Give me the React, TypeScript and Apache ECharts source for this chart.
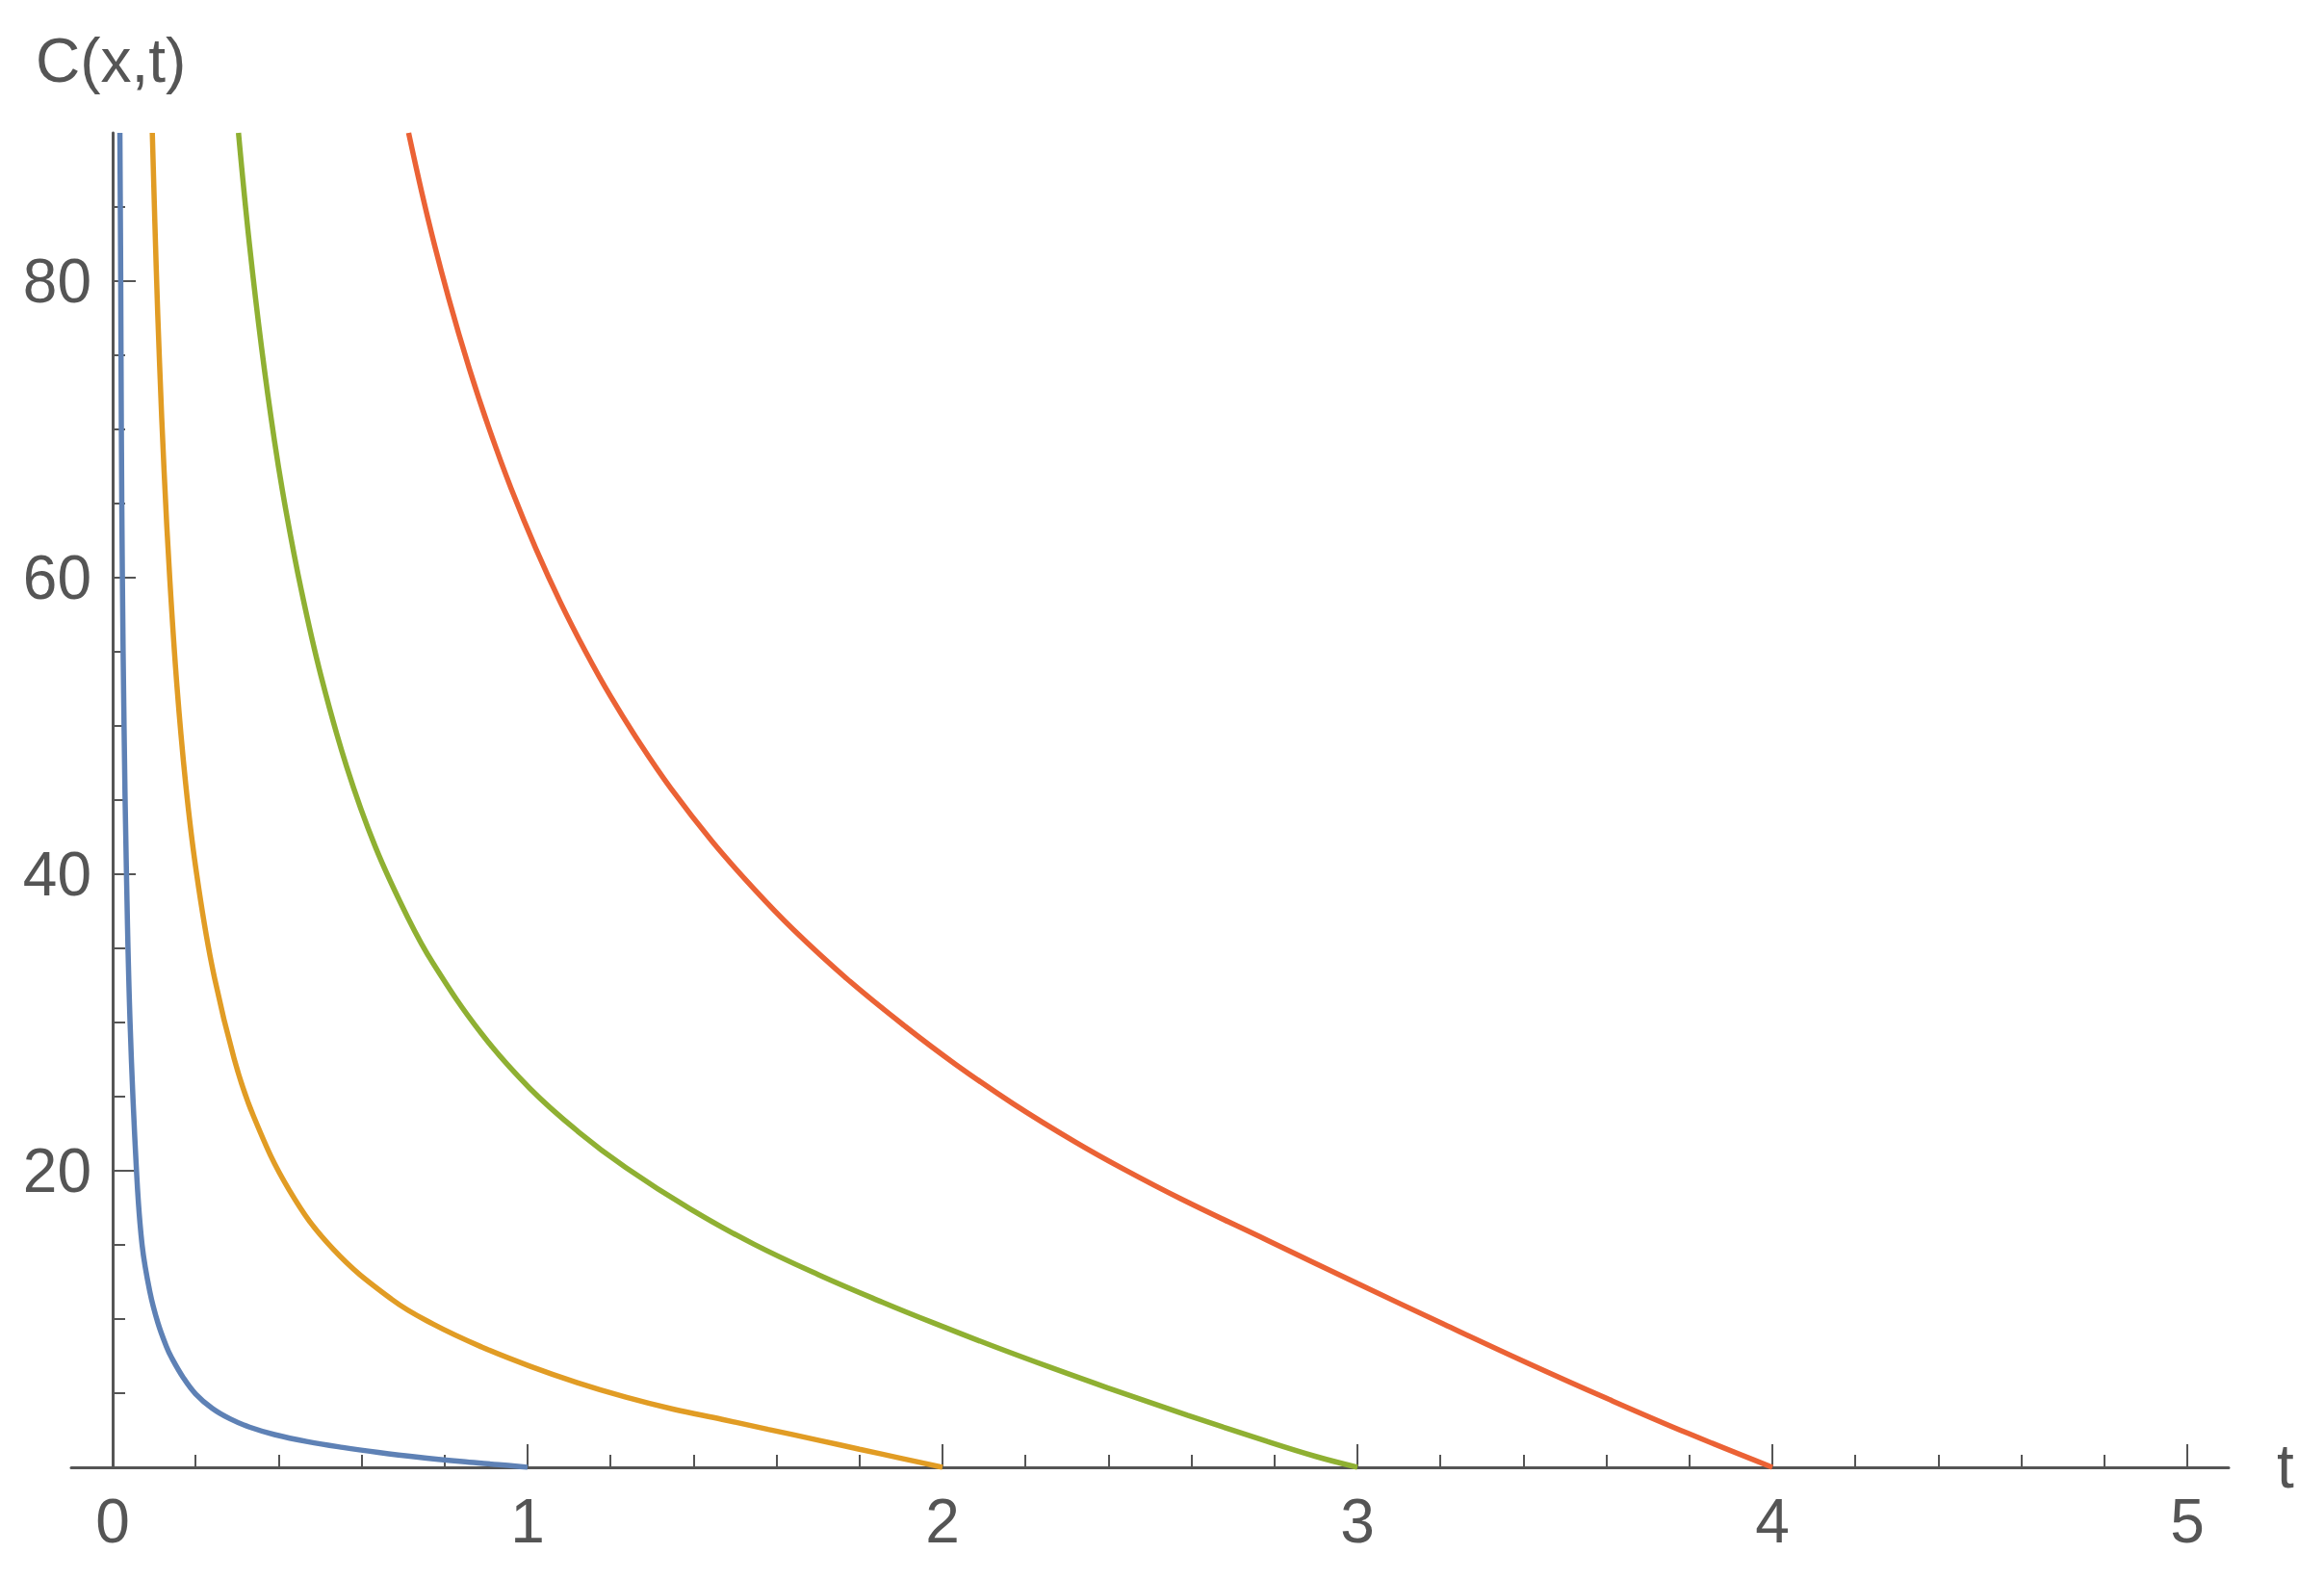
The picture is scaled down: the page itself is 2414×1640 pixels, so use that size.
import React, { useEffect, useRef } from "react";
import * as echarts from "echarts";

// t values (x axis) and C(x,t) values (y axis)
const blueT = [0.0175, 0.0195, 0.021, 0.0235, 0.0275, 0.033, 0.042, 0.0575, 0.071, 0.09, 0.109, 0.13, 0.142, 0.17, 0.2, 0.24, 0.283, 0.33, 0.39, 0.47, 0.555, 0.64, 0.732, 0.85, 0.93, 1.0];
const blueC = [90, 80, 70, 60, 50, 40.5, 30, 20, 15.0, 11.8, 9.75, 8.12, 7.4, 6.06, 4.95, 3.98, 3.27, 2.71, 2.21, 1.73, 1.34, 1.01, 0.7, 0.37, 0.18, 0];

const orangeT = [0.0956, 0.105, 0.113, 0.124, 0.138, 0.155, 0.176, 0.2, 0.239, 0.293, 0.34, 0.425, 0.531, 0.673, 0.773, 0.889, 1.005, 1.12, 1.237, 1.35, 1.469, 1.58, 1.701, 1.8, 1.9, 2.0];
const orangeC = [90, 80.95, 74.5, 67.2, 59.8, 52.7, 46.1, 40.5, 33.9, 27.54, 23.65, 18.73, 14.73, 11.32, 9.65, 8.12, 6.83, 5.71, 4.73, 3.93, 3.23, 2.56, 1.83, 1.22, 0.61, 0];

const greenT = [0.3033, 0.328, 0.359, 0.39, 0.417, 0.455, 0.502, 0.564, 0.633, 0.711, 0.773, 0.889, 1.005, 1.121, 1.237, 1.392, 1.546, 1.701, 1.855, 1.979, 2.126, 2.26, 2.397, 2.59, 2.783, 2.9, 3.0];
const greenC = [90, 82.93, 75.49, 69.23, 64.63, 59.12, 53.39, 47.25, 41.86, 37.1, 33.96, 29.25, 25.57, 22.66, 20.21, 17.42, 15.04, 12.99, 11.14, 9.73, 8.13, 6.74, 5.37, 3.52, 1.74, 0.73, 0];

const redT = [0.7133, 0.76, 0.81, 0.86, 0.91, 0.96, 1.02, 1.08, 1.14, 1.2, 1.27, 1.345, 1.445, 1.546, 1.64, 1.77, 1.91, 2.033, 2.172, 2.32, 2.436, 2.575, 2.783, 3.0, 3.209, 3.41, 3.603, 3.796, 4.0];
const redC = [90, 84.21, 78.83, 74.07, 69.84, 66.04, 61.96, 58.29, 55.0, 52.0, 48.86, 45.8, 42.21, 39.0, 36.28, 32.94, 29.74, 27.15, 24.49, 21.94, 20.12, 18.1, 15.31, 12.4, 9.64, 7.03, 4.62, 2.3, 0];

const xTicks = [0, 1, 2, 3, 4, 5];
const yTicks = [20, 40, 60, 80];
const yMajorTicks = [0, 20, 40, 60, 80];
const yLabel = "C(x,t)";
const xLabel = "t";

const AXIS = "#555555";
const TEXT = "#555555";
const FONT = "'Liberation Sans', Arial, Helvetica, sans-serif";
const COLORS = ["#5E81B5", "#E19C24", "#8FB032", "#EB6235"];

const pairs = (ts: number[], cs: number[]) => ts.map((t, i) => [t, cs[i]]);

export default function App() {
  const ref = useRef<HTMLDivElement>(null);

  useEffect(() => {
    const chart = echarts.init(ref.current!, null, { renderer: "svg" });
    const curves = [pairs(blueT, blueC), pairs(orangeT, orangeC), pairs(greenT, greenC), pairs(redT, redC)];
    chart.setOption({
      animation: false,
      backgroundColor: "#ffffff",
      grid: [
        // only draws the horizontal axis line, which runs a little past both ends
        { left: 74, right: 99, top: 138, bottom: 116, containLabel: false, outerBoundsMode: "none" },
        // the plot itself, t from 0 to 5
        { left: 117, right: 142, top: 138, bottom: 116, containLabel: false, outerBoundsMode: "none" },
      ],
      xAxis: [
        {
          type: "value",
          gridIndex: 0,
          min: -0.1,
          max: 5.1,
          axisLine: { show: true, onZero: false, lineStyle: { color: AXIS, width: 3 } },
          axisTick: { show: false },
          axisLabel: { show: false },
          splitLine: { show: false },
        },
        {
          type: "value",
          gridIndex: 1,
          min: 0,
          max: 5,
          interval: 1,
          axisLine: { show: false, onZero: false },
          axisTick: { show: true, inside: true, length: 24, lineStyle: { color: AXIS, width: 2 } },
          minorTick: { show: true, splitNumber: 5, length: 13, lineStyle: { color: AXIS, width: 2 } },
          axisLabel: {
            show: true,
            margin: 24,
            fontSize: 64,
            fontFamily: FONT,
            color: TEXT,
            formatter: (v: number) => (xTicks.includes(v) ? String(v) : ""),
          },
          splitLine: { show: false },
          minorSplitLine: { show: false },
        },
      ],
      yAxis: [
        { type: "value", gridIndex: 0, min: 0, max: 90, show: false },
        {
          type: "value",
          gridIndex: 1,
          min: 0,
          max: 90,
          interval: 20,
          axisLine: { show: true, onZero: false, lineStyle: { color: AXIS, width: 3 } },
          axisTick: {
            show: true,
            inside: true,
            length: 24,
            customValues: yMajorTicks,
            lineStyle: { color: AXIS, width: 2 },
          },
          minorTick: { show: true, splitNumber: 4, length: 13, lineStyle: { color: AXIS, width: 2 } },
          axisLabel: {
            show: true,
            margin: 22,
            fontSize: 64,
            fontFamily: FONT,
            color: TEXT,
            formatter: (v: number) => (yTicks.includes(v) ? String(v) : ""),
          },
          splitLine: { show: false },
          minorSplitLine: { show: false },
        },
      ],
      graphic: [
        {
          type: "text",
          x: 37,
          y: 63,
          style: { text: yLabel, fontSize: 64, fontFamily: FONT, fill: TEXT, align: "left", verticalAlign: "middle" },
        },
        {
          type: "text",
          x: 2365,
          y: 1523,
          style: { text: xLabel, fontSize: 64, fontFamily: FONT, fill: TEXT, align: "left", verticalAlign: "middle" },
        },
      ],
      series: curves.map((d, i) => ({
        type: "line",
        xAxisIndex: 1,
        yAxisIndex: 1,
        data: d,
        showSymbol: false,
        smooth: 0.4,
        lineStyle: { color: COLORS[i], width: 5.5 },
        itemStyle: { color: COLORS[i] },
        z: 3,
      })),
    });
    return () => chart.dispose();
  }, []);

  return (
    <div
      ref={ref}
      style={{ position: "absolute", left: 0, top: 0, width: 2414, height: 1640, background: "#fff" }}
    />
  );
}
